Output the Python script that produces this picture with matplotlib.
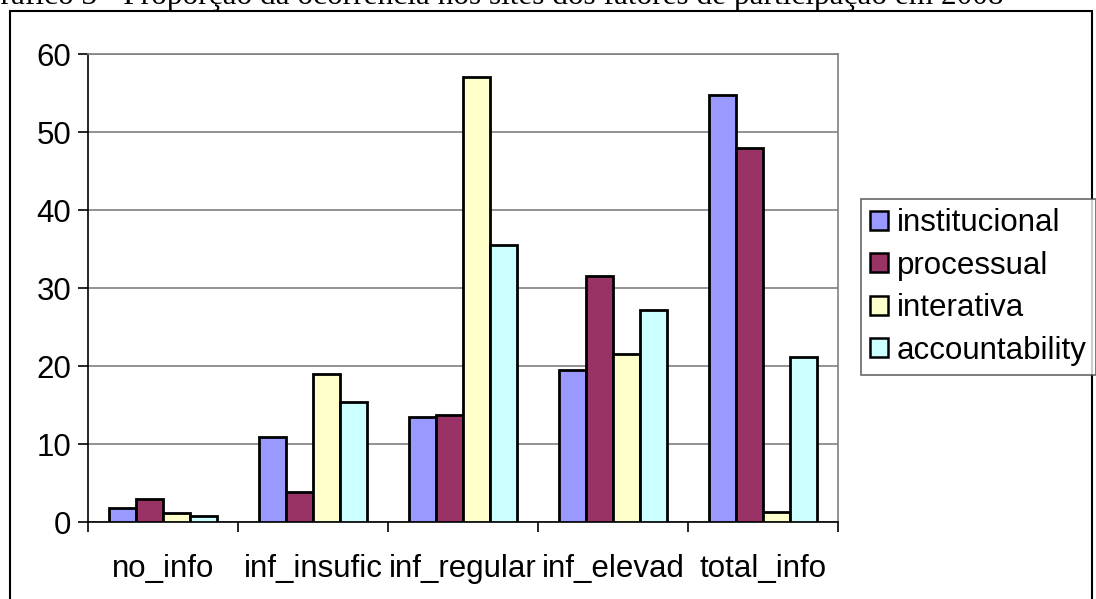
import matplotlib
matplotlib.use("Agg")
import matplotlib.pyplot as plt
from matplotlib.patches import Rectangle
import numpy as np

categories = ["no_info", "inf_insufic", "inf_regular", "inf_elevad", "total_info"]
series_names = ["institucional", "processual", "interativa", "accountability"]
institucional = [1.8, 10.9, 13.4, 19.5, 54.7]
processual = [3.0, 3.8, 13.7, 31.5, 47.9]
interativa = [1.2, 19.0, 57.0, 21.6, 1.3]
accountability = [0.8, 15.4, 35.5, 27.2, 21.1]
y_ticks = [0, 10, 20, 30, 40, 50, 60]
title_text = "Gráfico 3 - Proporção da ocorrência nos sites dos fatores de participação em 2008"

colors = ["#9999FF", "#993366", "#FFFFCC", "#CCFFFF"]
values = [institucional, processual, interativa, accountability]

W, H = 1096, 599
fig = plt.figure(figsize=(W / 100, H / 100), dpi=100)
fig.patch.set_facecolor("white")

sans = "Liberation Sans"
fs = 22.5

# Chart frame
fig.patches.append(Rectangle((10 / W, -0.05), (1092 - 10) / W, 1.05 - 11 / H,
                             transform=fig.transFigure, fill=False,
                             edgecolor="black", linewidth=1.5, zorder=0))

# Caption above the frame (partially off canvas)
fig.text(1003 / W, 1 - 4 / H, title_text, ha="right", va="baseline",
         family="Liberation Serif", fontsize=22.5, color="black")

ax = fig.add_axes([88 / W, 1 - 522 / H, (838 - 88) / W, (522 - 54) / H])
x = np.arange(len(categories))
bw = 0.18
for i, (name, vals, c) in enumerate(zip(series_names, values, colors)):
    ax.bar(x + (i - 1.5) * bw, vals, width=bw, color=c, edgecolor="black",
           linewidth=2.0, label=name, zorder=3)

ax.set_xlim(-0.5, len(categories) - 0.5)
ax.set_ylim(0, 60)
ax.set_yticks(y_ticks)
ax.set_yticklabels([str(v) for v in y_ticks], family=sans, fontsize=fs)
ax.yaxis.grid(True, color="#808080", linewidth=1.2, zorder=0)
ax.set_axisbelow(True)

ax.set_xticks(np.arange(len(categories) + 1) - 0.5)
ax.set_xticklabels([])
ax.set_xticks(x, minor=True)
ax.set_xticklabels(categories, minor=True, family=sans, fontsize=fs)
ax.tick_params(axis="x", which="major", direction="out", length=7, width=1.2, color="black")
ax.tick_params(axis="x", which="minor", length=0, pad=23)
ax.tick_params(axis="y", direction="out", length=7, width=1.2, color="black", pad=5)

for s in ["top", "right"]:
    ax.spines[s].set_color("#808080")
    ax.spines[s].set_linewidth(1.2)
ax.spines["left"].set_color("black")
ax.spines["bottom"].set_color("black")
ax.spines["left"].set_linewidth(1.2)
ax.spines["bottom"].set_linewidth(1.2)

leg = fig.legend(loc="upper left", bbox_to_anchor=(861 / W, 1 - 199 / H),
                 prop={"family": sans, "size": fs}, frameon=True, fancybox=False,
                 handlelength=0.55, handleheight=0.55, handletextpad=0.3,
                 borderpad=0.3, labelspacing=0.4, borderaxespad=0)
leg.get_frame().set_edgecolor("#404040")
leg.get_frame().set_linewidth(1.2)
for h in leg.legend_handles:
    h.set_linewidth(1.8)

fig.savefig("out.png", dpi=100)
